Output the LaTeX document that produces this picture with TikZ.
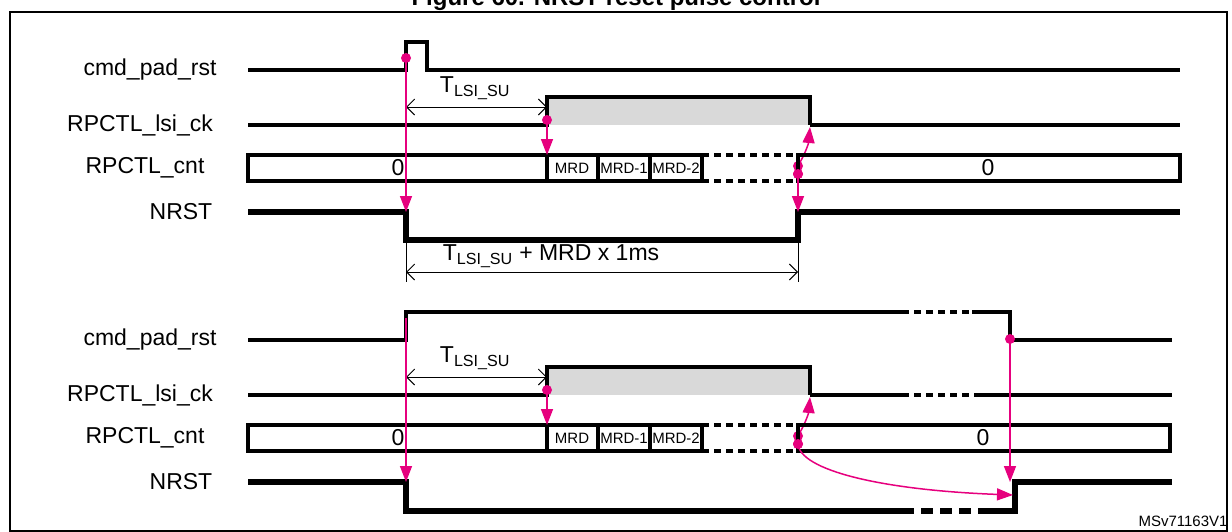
\documentclass[tikz,border=0pt]{standalone}
\usepackage{fontspec}
\setmainfont{Liberation Sans}
\usetikzlibrary{arrows.meta}
\definecolor{mag}{RGB}{230,0,126}
\definecolor{lgray}{RGB}{217,217,217}
\begin{document}
\begin{tikzpicture}[x=1pt,y=-1pt,
 sig/.style={line width=3.4pt},
 thk/.style={line width=5.5pt},
 dsh/.style={dash pattern=on 7pt off 5pt},
 lab/.style={font=\fontsize{23}{23}\selectfont,anchor=center},
 sm/.style={font=\fontsize{15}{15}\selectfont},
 mg/.style={mag,line width=1.5pt,-{Triangle[length=16pt,width=12pt]}},
 dot/.style={fill=mag,circle,inner sep=0,minimum size=10pt},
 dim/.style={line width=0.9pt,{Straight Barb[length=8pt]}-{Straight Barb[length=8pt]}}]
\useasboundingbox (0,0) rectangle (1232,531);
\clip (0,0) rectangle (1232,531);
\node[font=\bfseries\fontsize{24}{24}\selectfont] (title) at (616,-1) {Figure 60. NRST reset pulse control};
\draw[line width=1.5pt] (10,12) rectangle (1227,531);
\foreach \s in {0,270}{
\begin{scope}[yshift=-\s pt]
\node[lab] at (150,70) {cmd\_pad\_rst};
\node[lab] at (140,125) {RPCTL\_lsi\_ck};
\node[lab] at (145,168) {RPCTL\_cnt};
\node[lab] at (181,212) {NRST};
\fill[lgray] (547,97) rectangle (810,125);
\draw[sig] (248,125) -- (547,125) -- (547,97) -- (810,97) -- (810,125);
\draw[sig] (702,155) -- (547,155) -- (547,181) -- (702,181);
\draw[sig] (547,155) -- (248,155) -- (248,181) -- (547,181);
\draw[sig] (598,155) -- (598,181) (650,155) -- (650,181) (702,155) -- (702,181);
\draw[sig,dsh] (702,155) -- (798,155) (702,181) -- (798,181);
\node[sm] at (572,168) {MRD};
\node[sm] at (624,168) {MRD-1};
\node[sm] at (676,168) {MRD-2};
\node[lab] at (398,168) {0};
\node[dot] (d1) at (547,120) {};
\draw[mg] (d1.center) -- (547,155);
\node[dot] (u) at (798,166) {};
\node[dot] (l) at (798,174) {};
\draw[mg] (u.center) to[out=60,in=-95] (810,127);
\draw[dim] (406,107) -- (547,107);
\node[lab] at (475,88) {T\textsubscript{LSI\_SU}};
\end{scope}}
% top
\draw[sig] (248,70) -- (406,70) -- (406,42) -- (427,42) -- (427,70) -- (1180,70);
\draw[sig] (810,125) -- (1180,125);
\draw[sig] (798,155) -- (1180,155) -- (1180,181) -- (798,181) -- cycle;
\node[lab] at (988,168) {0};
\draw[thk] (248,212) -- (406,212) -- (406,240) -- (798,240) -- (798,212) -- (1180,212);
\node[dot] (a1) at (406,58) {};
\draw[mg] (a1.center) -- (406,212);
\node[dot] (l1) at (798,174) {};
\draw[mg] (l1.center) -- (798,212);
\draw[line width=0.9pt] (406,240) -- (406,282) (798,240) -- (798,282);
\draw[dim] (406,272) -- (798,272);
\node[lab] at (551,256) {T\textsubscript{LSI\_SU} + MRD x 1ms};
% bottom
\draw[sig] (248,340) -- (406,340) -- (406,312) -- (902,312);
\draw[sig,dsh] (902,312) -- (972,312);
\draw[sig] (972,312) -- (1010,312) -- (1010,340) -- (1172,340);
\draw[sig] (810,395) -- (902,395);
\draw[sig,dsh] (902,395) -- (975,395);
\draw[sig] (975,395) -- (1172,395);
\draw[sig] (798,425) -- (1170,425) -- (1170,451) -- (798,451) -- cycle;
\node[lab] at (983,438) {0};
\draw[thk] (248,482) -- (406,482) -- (406,511) -- (902,511);
\draw[thk,dash pattern=on 12pt off 7pt] (902,511) -- (982,511);
\draw[thk] (982,511) -- (1015,511) -- (1015,482) -- (1172,482);
\draw[mg] (406,318) -- (406,482);
\node[dot] (b2) at (1010,339) {};
\draw[mg] (b2.center) -- (1010,482);
\node[dot] (l2) at (798,444) {};
\draw[mg] (l2.center) .. controls (800,470) and (880,490) .. (1013,495);
\node[font=\fontsize{15}{15}\selectfont,anchor=east] (id) at (1231,521) {MSv71163V1};
\end{tikzpicture}
\end{document}
